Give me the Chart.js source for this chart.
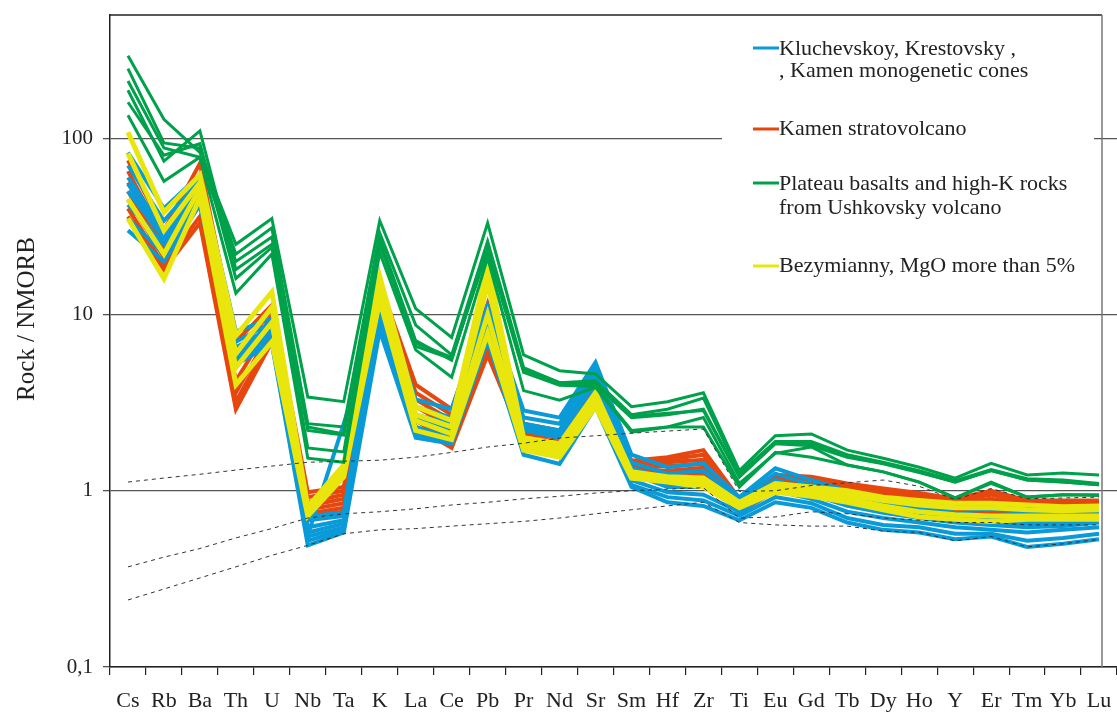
<!DOCTYPE html>
<html>
<head>
<meta charset="utf-8">
<script src="https://cdn.jsdelivr.net/npm/chart.js@4.4.1/dist/chart.umd.min.js"></script>
<style>
  html, body { margin: 0; padding: 0; background: #fff; }
  #wrap { width: 1117px; height: 713px; position: relative; }
</style>
</head>
<body>
<div id="wrap"><canvas id="c" width="1117" height="713"></canvas></div>
<script>
// ---------------- DATA ----------------
const categories = ['Cs','Rb','Ba','Th','U','Nb','Ta','K','La','Ce','Pb','Pr','Nd','Sr','Sm','Hf','Zr','Ti','Eu','Gd','Tb','Dy','Ho','Y','Er','Tm','Yb','Lu'];

const yTickValues = [0.1, 1, 10, 100];
const yTickLabels = ['0,1', '1', '10', '100'];

// Kluchevskoy, Krestovsky, Kamen monogenetic cones (blue)
const blue1 = [83, 40, 62, 8.0, 9.5, 0.72, 0.75, 14, 3.3, 2.9, 11.2, 2.85, 2.6, 5.35, 1.6, 1.36, 1.43, 0.92, 1.34, 1.15, 1.0, 0.9, 0.85, 0.8, 0.78, 0.76, 0.76, 0.78];
const blue2 = [70, 34, 58, 7.0, 9.0, 0.68, 0.72, 12.5, 3.0, 2.6, 10, 2.6, 2.4, 5.0, 1.45, 1.25, 1.3, 0.88, 1.25, 1.08, 0.95, 0.85, 0.8, 0.75, 0.72, 0.72, 0.72, 0.74];
const blue3 = [60, 30, 55, 6.5, 8.5, 0.62, 0.68, 11.5, 2.7, 2.4, 9.5, 2.4, 2.2, 4.6, 1.35, 1.15, 1.15, 0.85, 1.15, 1.0, 0.88, 0.8, 0.75, 0.7, 0.68, 0.68, 0.68, 0.7];
const blue4 = [50, 27, 50, 6.0, 8.0, 0.58, 0.65, 10.5, 2.5, 2.2, 9.0, 2.2, 2.0, 4.2, 1.25, 1.05, 1.05, 0.8, 1.05, 0.95, 0.82, 0.75, 0.7, 0.66, 0.64, 0.62, 0.63, 0.66];
const blue5 = [42, 25, 47, 5.7, 7.5, 0.55, 0.62, 9.5, 2.3, 2.0, 8.0, 2.0, 1.8, 3.8, 1.15, 0.98, 0.95, 0.76, 1.0, 0.9, 0.76, 0.7, 0.66, 0.62, 0.6, 0.58, 0.6, 0.62];
const blue6 = [35, 22, 44, 5.5, 7.0, 0.52, 0.6, 8.8, 2.1, 1.9, 7.5, 1.75, 1.55, 3.3, 1.08, 0.92, 0.88, 0.72, 0.92, 0.85, 0.7, 0.64, 0.62, 0.57, 0.57, 0.52, 0.54, 0.57];
const blue7 = [30, 20, 42, 5.2, 6.8, 0.49, 0.58, 8.1, 2.0, 1.85, 7.1, 1.6, 1.42, 3.0, 1.05, 0.86, 0.82, 0.68, 0.86, 0.8, 0.66, 0.6, 0.58, 0.53, 0.55, 0.48, 0.5, 0.53];
const blue8 = [55, 28, 52, 6.2, 8.2, 0.56, 2.4, 11, 2.6, 2.3, 9.2, 2.3, 2.1, 4.4, 1.3, 1.1, 1.1, 0.82, 1.1, 0.97, 0.85, 0.78, 0.72, 0.68, 0.66, 0.65, 0.66, 0.68];

// Kamen stratovolcano (red)
const red1 = [75, 30, 72, 7.0, 11.3, 0.98, 1.05, 15, 4.0, 2.9, 11.5, 2.4, 2.2, 4.3, 1.48, 1.55, 1.7, 0.9, 1.23, 1.2, 1.1, 1.03, 0.97, 0.9, 1.0, 0.88, 0.88, 0.88];
const red2 = [65, 27, 62, 6.0, 10.5, 0.92, 1.0, 14, 3.6, 2.7, 10.5, 2.3, 2.1, 4.1, 1.42, 1.5, 1.6, 0.88, 1.2, 1.15, 1.06, 1.0, 0.94, 0.88, 0.95, 0.85, 0.86, 0.86];
const red3 = [56, 25, 55, 5.0, 9.8, 0.86, 0.95, 13, 3.3, 2.5, 9.5, 2.2, 2.05, 4.0, 1.38, 1.45, 1.5, 0.85, 1.15, 1.1, 1.02, 0.96, 0.9, 0.85, 0.9, 0.83, 0.84, 0.84];
const red4 = [50, 23, 48, 4.2, 9.0, 0.82, 0.9, 12, 3.0, 2.3, 8.5, 2.1, 2.0, 3.9, 1.33, 1.38, 1.42, 0.83, 1.1, 1.06, 0.98, 0.93, 0.87, 0.82, 0.86, 0.8, 0.8, 0.82];
const red5 = [45, 21, 42, 3.6, 8.2, 0.78, 0.85, 11, 2.7, 2.1, 7.5, 2.0, 1.9, 3.8, 1.3, 1.3, 1.35, 0.8, 1.05, 1.02, 0.95, 0.9, 0.84, 0.8, 0.82, 0.78, 0.78, 0.8];
const red6 = [40, 19, 36, 3.2, 7.5, 0.74, 0.8, 10.5, 2.5, 1.9, 6.5, 1.95, 1.85, 3.6, 1.25, 1.25, 1.28, 0.78, 1.02, 0.98, 0.92, 0.87, 0.82, 0.77, 0.78, 0.76, 0.76, 0.78];
const red7 = [36, 18, 33, 2.9, 7.0, 0.72, 0.76, 10, 2.3, 1.75, 5.9, 1.9, 1.8, 3.5, 1.2, 1.2, 1.22, 0.75, 1.0, 0.95, 0.9, 0.85, 0.8, 0.75, 0.76, 0.75, 0.75, 0.77];

// Plateau basalts and high-K rocks from Ushkovsky volcano (green)
const green1 = [294, 128, 83, 25, 35, 3.4, 3.2, 34, 10.8, 7.4, 33, 5.9, 4.8, 4.6, 3.0, 3.2, 3.6, 1.3, 2.05, 2.1, 1.7, 1.53, 1.36, 1.18, 1.43, 1.23, 1.26, 1.23];
const green2 = [248, 94, 88, 22, 31, 2.4, 2.3, 29, 8.7, 5.9, 26, 5.0, 4.1, 4.2, 2.7, 2.9, 3.35, 1.25, 1.9, 1.9, 1.6, 1.45, 1.3, 1.14, 1.32, 1.17, 1.15, 1.1];
const green3 = [211, 88, 78, 20, 27.5, 2.3, 2.1, 27, 7.1, 5.5, 25, 4.8, 4.0, 4.0, 2.6, 2.7, 2.9, 1.2, 1.85, 1.8, 1.55, 1.42, 1.27, 1.12, 1.3, 1.15, 1.12, 1.08];
const green4 = [187, 74, 110, 18, 25, 1.75, 1.66, 25, 6.9, 5.7, 23, 4.7, 3.97, 3.9, 2.2, 2.3, 2.6, 1.1, 1.63, 1.77, 1.4, 1.28, 1.12, 0.91, 1.12, 0.92, 0.95, 0.95];
const green5 = [135, 57, 78, 13.2, 22, 1.53, 1.45, 22.5, 6.3, 4.4, 21, 3.7, 3.26, 3.86, 2.15, 2.3, 2.3, 1.05, 1.65, 1.55, 1.4, 1.28, 1.12, 0.91, 1.1, 0.92, 0.95, 0.94];
const green6 = [160, 80, 93, 16, 24, 2.2, 2.07, 26, 6.6, 5.6, 24, 4.9, 4.1, 4.1, 2.65, 2.75, 2.85, 1.2, 1.86, 1.85, 1.58, 1.43, 1.28, 1.12, 1.3, 1.15, 1.12, 1.08];

// Bezymianny, MgO more than 5% (yellow)
const yellow1 = [108, 38, 62, 7.6, 13.4, 0.81, 1.4, 16.4, 3.0, 2.5, 19, 2.0, 1.85, 3.6, 1.28, 1.2, 1.18, 0.86, 1.1, 1.05, 1.0, 0.92, 0.88, 0.85, 0.85, 0.83, 0.81, 0.82];
const yellow2 = [82, 30, 56, 6.0, 11, 0.78, 1.3, 15, 2.7, 2.3, 15, 1.9, 1.75, 3.5, 1.24, 1.17, 1.15, 0.84, 1.06, 1.0, 0.95, 0.88, 0.83, 0.8, 0.8, 0.78, 0.77, 0.78];
const yellow3 = [45, 22, 52, 5.0, 9.0, 0.76, 1.25, 13.5, 2.5, 2.1, 10, 1.8, 1.65, 3.3, 1.2, 1.14, 1.1, 0.82, 1.02, 0.96, 0.9, 0.82, 0.76, 0.73, 0.72, 0.72, 0.72, 0.72];
const yellow4 = [35, 16, 46, 4.0, 7.0, 0.72, 1.2, 12, 2.2, 1.95, 7.8, 1.7, 1.55, 3.0, 1.18, 1.12, 1.05, 0.8, 0.98, 0.93, 0.86, 0.78, 0.71, 0.69, 0.67, 0.69, 0.69, 0.69];

// dotted reference curves
const dashUpper  = [1.12, 1.18, 1.24, 1.31, 1.38, 1.45, 1.47, 1.49, 1.55, 1.65, 1.77, 1.86, 1.99, 2.05, 2.12, 2.18, 2.24, 0.99, 1.0, 1.07, 1.11, 1.15, 1.06, 0.89, 1.03, 0.9, 0.91, 0.92];
const dashMiddle = [0.37, 0.42, 0.47, 0.54, 0.61, 0.70, 0.74, 0.76, 0.79, 0.83, 0.86, 0.9, 0.93, 0.97, 1.0, 1.02, 1.04, 0.70, 0.71, 0.76, 0.74, 0.70, 0.68, 0.66, 0.66, 0.64, 0.64, 0.64];
const dashLower  = [0.24, 0.277, 0.32, 0.37, 0.43, 0.49, 0.57, 0.6, 0.61, 0.63, 0.65, 0.67, 0.7, 0.74, 0.78, 0.82, 0.86, 0.66, 0.64, 0.63, 0.63, 0.59, 0.58, 0.52, 0.55, 0.48, 0.5, 0.53];

const legendItems = [
  { color: '#0a9ad8', lines: ['Kluchevskoy, Krestovsky ,', ', Kamen monogenetic cones'] },
  { color: '#e5470f', lines: ['Kamen stratovolcano'] },
  { color: '#00a14b', lines: ['Plateau basalts and high-K rocks', 'from Ushkovsky volcano'] },
  { color: '#e8e60c', lines: ['Bezymianny, MgO more than 5%'] }
];

// ---------------- STYLE ----------------
const C_BLUE = '#0a9ad8', C_RED = '#e5470f', C_GREEN = '#00a14b', C_YELLOW = '#e8e60c';
const FONT = "'Liberation Serif', 'Times New Roman', serif";

function series(data, color, width, order) {
  return { data, borderColor: color, backgroundColor: color, borderWidth: width,
           pointRadius: 0, tension: 0, fill: false, borderJoinStyle: 'miter', order };
}
function dashed(data) {
  return { data, borderColor: '#333', borderWidth: 1, borderDash: [4, 4],
           pointRadius: 0, tension: 0, fill: false, order: -1 };
}

const datasets = [
  ...[red1, red2, red3, red4, red5, red6, red7].map(d => series(d, C_RED, 4, 4)),
  ...[blue1, blue2, blue3, blue4, blue5, blue6, blue7, blue8].map(d => series(d, C_BLUE, 4, 3)),
  ...[yellow1, yellow2, yellow3, yellow4].map(d => series(d, C_YELLOW, 5, 2)),
  ...[green1, green2, green3, green4, green5, green6].map(d => series(d, C_GREEN, 3, 1)),
  dashed(dashUpper), dashed(dashMiddle), dashed(dashLower)
];

const decor = {
  id: 'decor',
  beforeDatasetsDraw(chart) {
    const ctx = chart.ctx;
    ctx.save();
    ctx.fillStyle = '#fff';
    ctx.fillRect(722, 20, 372, 272);
    ctx.restore();
  },
  afterDraw(chart) {
    const ctx = chart.ctx, a = chart.chartArea;
    ctx.save();
    // frame (top and right)
    ctx.strokeStyle = '#222';
    ctx.lineWidth = 1.5;
    ctx.beginPath();
    ctx.moveTo(a.left, a.top); ctx.lineTo(1102, a.top);
    ctx.stroke();
    ctx.strokeStyle = '#777';
    ctx.beginPath();
    ctx.moveTo(1102, a.top); ctx.lineTo(1102, a.bottom);
    ctx.stroke();
    // legend
    ctx.font = '22px ' + FONT;
    ctx.textBaseline = 'alphabetic';
    ctx.textAlign = 'left';
    const sampleY = [48, 129, 183, 266];
    const baseY = [[55, 77], [135], [190, 214], [272]];
    legendItems.forEach((it, i) => {
      ctx.strokeStyle = it.color;
      ctx.lineWidth = 3;
      ctx.beginPath();
      ctx.moveTo(753, sampleY[i]); ctx.lineTo(779, sampleY[i]);
      ctx.stroke();
      ctx.fillStyle = '#222';
      it.lines.forEach((t, j) => {
        ctx.fillText(t, 779, baseY[i][j]);
      });
    });
    // y axis title
    ctx.translate(27, 319);
    ctx.rotate(-Math.PI / 2);
    ctx.font = '25px ' + FONT;
    ctx.textAlign = 'center';
    ctx.textBaseline = 'middle';
    ctx.fillStyle = '#222';
    ctx.fillText('Rock / NMORB', 0, 0);
    ctx.restore();
  }
};

Chart.defaults.font.family = FONT;
Chart.defaults.color = '#222';

new Chart(document.getElementById('c'), {
  type: 'line',
  data: { labels: categories, datasets },
  options: {
    responsive: false,
    animation: false,
    events: [],
    layout: { padding: { top: 15, right: 0, bottom: 0, left: 0 } },
    plugins: { legend: { display: false }, tooltip: { enabled: false } },
    scales: {
      x: {
        type: 'category',
        offset: true,
        grid: { offset: true, drawOnChartArea: false, tickLength: 8, color: '#222', lineWidth: 1.2 },
        border: { color: '#222', width: 1.5 },
        ticks: { font: { size: 22 }, color: '#222', padding: 13, maxRotation: 0, autoSkip: false },
        afterFit(s) { s.height = 46; s.paddingLeft = 0; s.paddingRight = 0; }
      },
      y: {
        type: 'logarithmic',
        min: 0.1,
        max: 500,
        grid: { color: '#555', lineWidth: 1.3, tickLength: 7 },
        border: { color: '#222', width: 1.5 },
        ticks: {
          font: { size: 21 }, color: '#222', padding: 10,
          callback(v) { const i = yTickValues.indexOf(v); return i >= 0 ? yTickLabels[i] : ''; }
        },
        afterBuildTicks(s) { s.ticks = yTickValues.map(v => ({ value: v })); },
        afterFit(s) { s.width = 110; s.paddingTop = 0; s.paddingBottom = 0; }
      }
    }
  },
  plugins: [decor]
});
</script>
</body>
</html>
